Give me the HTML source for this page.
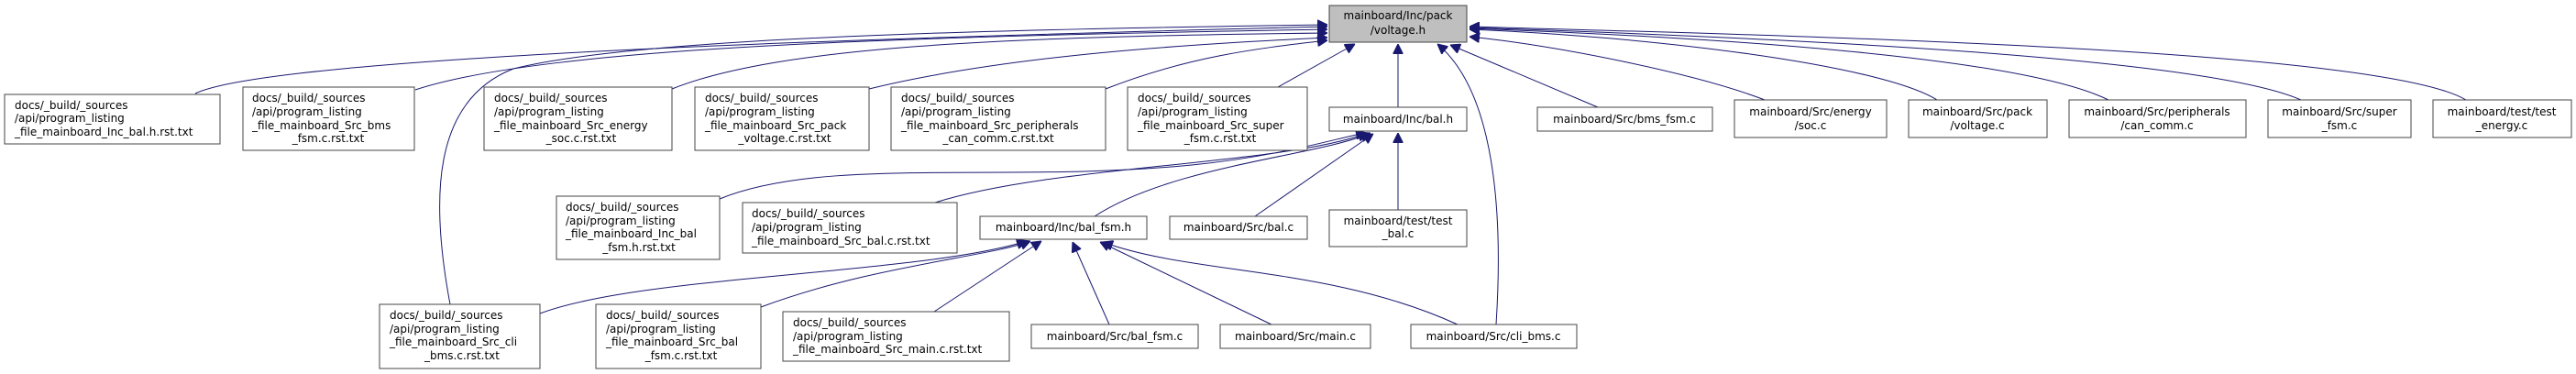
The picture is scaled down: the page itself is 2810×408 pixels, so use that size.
<!DOCTYPE html>
<html><head><meta charset="utf-8"><style>
html,body{margin:0;padding:0;background:#fff}
svg{display:block}
text{font-family:"DejaVu Sans","Liberation Sans",sans-serif;font-size:12px;fill:#000}
.b{fill:#fff;stroke:#444;stroke-width:1}
.e{fill:none;stroke:#191970;stroke-width:1}
</style></head><body>
<svg width="2810" height="408" viewBox="0 0 2810 408" xmlns="http://www.w3.org/2000/svg">
<defs>
<marker id="a" viewBox="0 0 10 10" refX="10" refY="5" markerWidth="11" markerHeight="11" markerUnits="userSpaceOnUse" orient="auto">
<path d="M0,0 L10,5 L0,10 z" fill="#191970" stroke="#191970"/>
</marker>
</defs>

<path class="e" marker-end="url(#a)" d="M213,102 C300,60 1000,40 1448,29"/>
<path class="e" marker-end="url(#a)" d="M453,98 C600,50 1000,40 1448,32"/>
<path class="e" marker-end="url(#a)" d="M733,97 C850,50 1100,40 1448,36"/>
<path class="e" marker-end="url(#a)" d="M948,97 C1100,60 1300,48 1448,41"/>
<path class="e" marker-end="url(#a)" d="M1206,97 C1300,60 1380,52 1448,44"/>
<path class="e" marker-end="url(#a)" d="M1394,95 L1478,48"/>
<path class="e" marker-end="url(#a)" d="M491,332 C470,220 470,110 560,75 C700,40 1100,32 1448,27"/>
<path class="e" marker-end="url(#a)" d="M1525,117 L1525,48"/>
<path class="e" marker-end="url(#a)" d="M1632,354 C1640,230 1630,100 1568,48"/>
<path class="e" marker-end="url(#a)" d="M1743,117 L1582,49"/>
<path class="e" marker-end="url(#a)" d="M1925,109 C1850,80 1700,50 1603,40"/>
<path class="e" marker-end="url(#a)" d="M2113,109 C2050,70 1800,40 1603,32"/>
<path class="e" marker-end="url(#a)" d="M2300,109 C2200,60 1850,40 1603,31"/>
<path class="e" marker-end="url(#a)" d="M2510,109 C2400,60 1900,40 1603,30"/>
<path class="e" marker-end="url(#a)" d="M2690,109 C2600,55 2000,40 1603,29"/>

<path class="e" marker-end="url(#a)" d="M785,217 C900,170 1100,200 1300,180 C1400,170 1460,150 1490,145"/>
<path class="e" marker-end="url(#a)" d="M1020,221 C1150,180 1400,180 1492,145"/>
<path class="e" marker-end="url(#a)" d="M1194,236 C1280,180 1440,170 1495,145"/>
<path class="e" marker-end="url(#a)" d="M1369,236 L1498,146"/>
<path class="e" marker-end="url(#a)" d="M1525,229 L1525,145"/>

<path class="e" marker-end="url(#a)" d="M589,342 C700,300 1000,300 1120,263"/>
<path class="e" marker-end="url(#a)" d="M830,335 C950,290 1080,280 1124,263"/>
<path class="e" marker-end="url(#a)" d="M1019,340 L1136,263"/>
<path class="e" marker-end="url(#a)" d="M1210,354 L1170,264"/>
<path class="e" marker-end="url(#a)" d="M1387,354 L1200,264"/>
<path class="e" marker-end="url(#a)" d="M1590,354 C1450,290 1300,300 1203,264"/>

<rect x="1450" y="6" width="150" height="40" fill="#bfbfbf" stroke="#444"/>
<text x="1525" y="21" text-anchor="middle">mainboard/Inc/pack</text>
<text x="1525" y="37" text-anchor="middle">/voltage.h</text>

<rect class="b" x="5" y="103" width="235" height="54"/>
<text x="16" y="119">docs/_build/_sources</text>
<text x="16" y="133">/api/program_listing</text>
<text x="16" y="148">_file_mainboard_Inc_bal.h.rst.txt</text>

<rect class="b" x="265" y="95" width="187" height="69"/>
<text x="275" y="111">docs/_build/_sources</text>
<text x="275" y="126">/api/program_listing</text>
<text x="275" y="141">_file_mainboard_Src_bms</text>
<text x="358" y="155" text-anchor="middle">_fsm.c.rst.txt</text>

<rect class="b" x="528" y="95" width="205" height="69"/>
<text x="539" y="111">docs/_build/_sources</text>
<text x="539" y="126">/api/program_listing</text>
<text x="539" y="141">_file_mainboard_Src_energy</text>
<text x="634" y="155" text-anchor="middle">_soc.c.rst.txt</text>

<rect class="b" x="758" y="95" width="190" height="69"/>
<text x="769" y="111">docs/_build/_sources</text>
<text x="769" y="126">/api/program_listing</text>
<text x="769" y="141">_file_mainboard_Src_pack</text>
<text x="856" y="155" text-anchor="middle">_voltage.c.rst.txt</text>

<rect class="b" x="972" y="95" width="234" height="69"/>
<text x="983" y="111">docs/_build/_sources</text>
<text x="983" y="126">/api/program_listing</text>
<text x="983" y="141">_file_mainboard_Src_peripherals</text>
<text x="1089" y="155" text-anchor="middle">_can_comm.c.rst.txt</text>

<rect class="b" x="1230" y="95" width="196" height="69"/>
<text x="1241" y="111">docs/_build/_sources</text>
<text x="1241" y="126">/api/program_listing</text>
<text x="1241" y="141">_file_mainboard_Src_super</text>
<text x="1331" y="155" text-anchor="middle">_fsm.c.rst.txt</text>

<rect class="b" x="1450" y="117" width="150" height="26"/>
<text x="1525" y="134" text-anchor="middle">mainboard/Inc/bal.h</text>

<rect class="b" x="1677" y="117" width="191" height="26"/>
<text x="1772" y="134" text-anchor="middle">mainboard/Src/bms_fsm.c</text>

<rect class="b" x="1892" y="109" width="166" height="41"/>
<text x="1975" y="126" text-anchor="middle">mainboard/Src/energy</text>
<text x="1975" y="141" text-anchor="middle">/soc.c</text>

<rect class="b" x="2082" y="109" width="151" height="41"/>
<text x="2157" y="126" text-anchor="middle">mainboard/Src/pack</text>
<text x="2157" y="141" text-anchor="middle">/voltage.c</text>

<rect class="b" x="2257" y="109" width="193" height="41"/>
<text x="2353" y="126" text-anchor="middle">mainboard/Src/peripherals</text>
<text x="2353" y="141" text-anchor="middle">/can_comm.c</text>

<rect class="b" x="2474" y="109" width="156" height="41"/>
<text x="2552" y="126" text-anchor="middle">mainboard/Src/super</text>
<text x="2552" y="141" text-anchor="middle">_fsm.c</text>

<rect class="b" x="2654" y="109" width="151" height="41"/>
<text x="2729" y="126" text-anchor="middle">mainboard/test/test</text>
<text x="2729" y="141" text-anchor="middle">_energy.c</text>

<rect class="b" x="607" y="214" width="178" height="69"/>
<text x="617" y="230">docs/_build/_sources</text>
<text x="617" y="245">/api/program_listing</text>
<text x="617" y="259">_file_mainboard_Inc_bal</text>
<text x="697" y="274" text-anchor="middle">_fsm.h.rst.txt</text>

<rect class="b" x="810" y="221" width="234" height="55"/>
<text x="820" y="237">docs/_build/_sources</text>
<text x="820" y="252">/api/program_listing</text>
<text x="820" y="267">_file_mainboard_Src_bal.c.rst.txt</text>

<rect class="b" x="1069" y="236" width="182" height="25"/>
<text x="1160" y="252" text-anchor="middle">mainboard/Inc/bal_fsm.h</text>

<rect class="b" x="1276" y="236" width="150" height="25"/>
<text x="1351" y="252" text-anchor="middle">mainboard/Src/bal.c</text>

<rect class="b" x="1450" y="229" width="150" height="40"/>
<text x="1525" y="245" text-anchor="middle">mainboard/test/test</text>
<text x="1525" y="259" text-anchor="middle">_bal.c</text>

<rect class="b" x="414" y="332" width="175" height="70"/>
<text x="425" y="348">docs/_build/_sources</text>
<text x="425" y="363">/api/program_listing</text>
<text x="425" y="377">_file_mainboard_Src_cli</text>
<text x="504" y="392" text-anchor="middle">_bms.c.rst.txt</text>

<rect class="b" x="650" y="332" width="180" height="70"/>
<text x="661" y="348">docs/_build/_sources</text>
<text x="661" y="363">/api/program_listing</text>
<text x="661" y="377">_file_mainboard_Src_bal</text>
<text x="743" y="392" text-anchor="middle">_fsm.c.rst.txt</text>

<rect class="b" x="854" y="340" width="247" height="54"/>
<text x="865" y="356">docs/_build/_sources</text>
<text x="865" y="371">/api/program_listing</text>
<text x="865" y="385">_file_mainboard_Src_main.c.rst.txt</text>

<rect class="b" x="1125" y="354" width="182" height="26"/>
<text x="1216" y="371" text-anchor="middle">mainboard/Src/bal_fsm.c</text>

<rect class="b" x="1331" y="354" width="164" height="26"/>
<text x="1413" y="371" text-anchor="middle">mainboard/Src/main.c</text>

<rect class="b" x="1539" y="354" width="181" height="26"/>
<text x="1629" y="371" text-anchor="middle">mainboard/Src/cli_bms.c</text>
</svg>
</body></html>
